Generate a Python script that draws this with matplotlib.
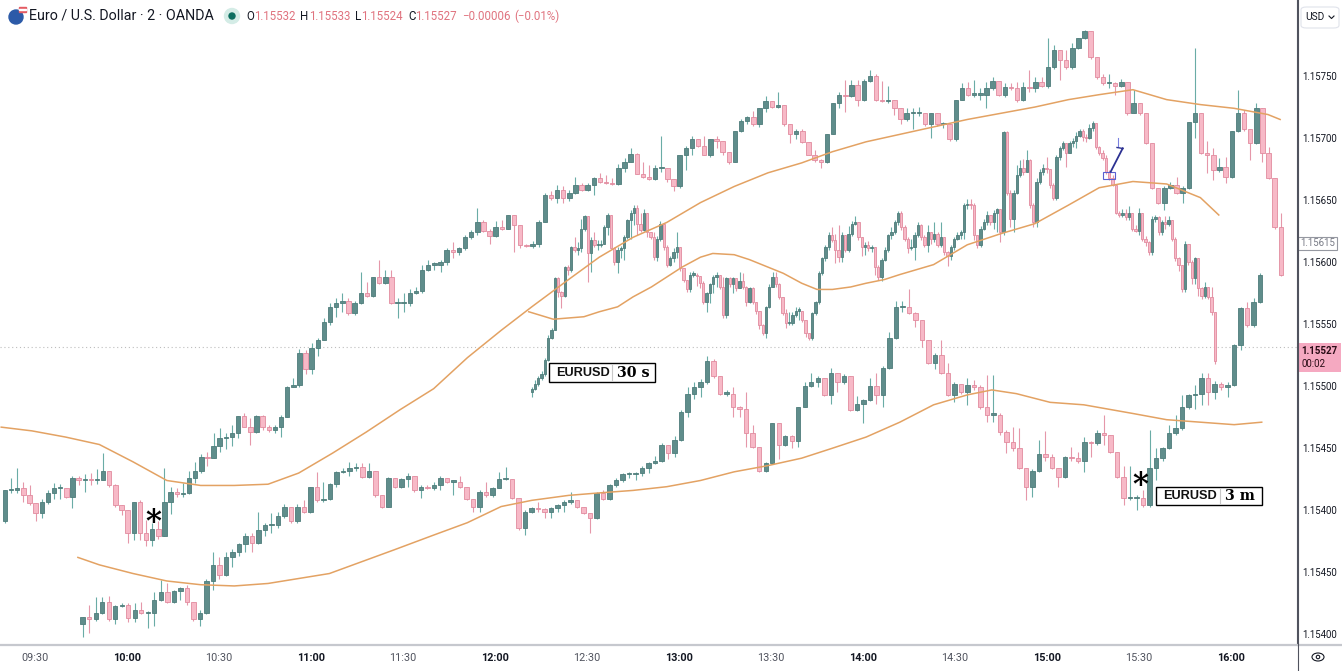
import numpy as np
import matplotlib.pyplot as plt
from matplotlib.patches import Rectangle, Ellipse, FancyBboxPatch
from matplotlib.lines import Line2D

W, H = 1342, 671
BASE = 1.15          # prices below are in 0.00001 steps above 1.15000

# --- EURUSD 2 min (main series) ---
a_open0 = 391
a_close = [416,416,418,412,406,398,407,414,418,418,
           411,426,424,425,424,424,432,420,404,400,
           382,407,382,376,385,379,407,415,413,414,
           426,432,443,442,452,458,459,462,476,467,
           463,476,467,465,467,475,499,501,527,514,
           531,537,552,564,567,569,559,567,575,573,
           588,583,588,567,567,567,575,577,594,598,
           598,600,610,608,611,620,624,632,625,621,
           628,627,638,630,614,613,615,632,654,652,
           658,652,656,662,658,662,668,665,664,663,
           676,681,687,671,669,667,676,676,667,661,
           686,692,699,694,686,699,698,689,681,706,
           714,717,711,724,730,725,727,711,703,706,
           697,686,682,681,703,728,735,734,743,731,
           746,750,731,730,731,724,715,720,720,720,
           711,720,711,711,699,731,740,735,735,735,
           740,746,735,741,740,731,741,740,745,742,
           757,771,763,757,773,781,786,765,749,744,
           744,742,745,720,728,720,696,660,648,660,
           662,656,660,713,720,688,686,674,677,669,
           706,720,707,696,724,688,668,628,590]
a_high = [416,426,434,423,420,406,409,416,422,421,
          418,428,428,429,430,433,446,432,421,404,
          400,407,408,392,390,391,434,419,418,422,
          432,439,445,447,462,466,462,469,476,478,
          474,477,477,469,469,477,500,507,530,529,
          535,539,555,567,571,575,571,569,592,584,
          588,602,594,594,571,575,578,580,598,602,
          600,602,611,616,612,622,626,644,634,627,
          633,634,638,638,630,615,617,634,656,657,
          662,661,658,669,664,664,669,672,670,668,
          679,684,692,688,681,678,678,702,676,667,
          686,694,702,698,702,699,702,698,689,706,
          715,718,722,724,734,730,737,727,711,707,
          707,697,690,683,703,728,737,747,747,747,
          748,755,752,746,742,731,724,724,724,725,
          720,720,720,713,711,731,744,745,747,740,
          745,749,746,744,744,745,745,755,749,749,
          781,775,771,771,777,781,787,786,765,752,
          752,745,748,745,739,728,720,696,660,661,
          665,669,661,713,773,720,698,692,684,685,
          706,739,723,707,728,724,693,668,640]
a_low = [390,414,414,407,404,391,394,405,409,409,
         410,402,420,415,420,421,424,419,403,396,
         374,376,376,371,371,377,379,397,411,411,
         413,422,430,436,442,447,449,452,458,467,
         453,462,465,463,462,459,475,499,499,510,
         510,524,537,549,556,560,557,557,566,572,
         572,582,582,566,555,560,565,574,575,593,
         594,592,598,603,606,610,619,622,624,615,
         620,626,627,608,611,612,611,612,632,650,
         648,648,649,655,657,657,654,664,663,662,
         662,673,681,671,668,666,666,673,665,657,
         660,674,686,693,686,685,692,686,679,681,
         705,711,710,709,721,724,724,710,696,699,
         696,686,681,676,680,703,724,721,733,726,
         730,745,730,729,728,719,711,714,707,718,
         710,700,710,708,698,698,731,734,733,731,
         724,739,734,733,739,729,730,737,737,741,
         740,756,747,756,756,772,780,764,748,743,
         740,735,741,719,720,719,695,659,647,642,
         659,655,648,659,700,687,672,666,673,664,
         668,705,706,682,695,681,667,627,589]

# --- EURUSD 30 s overlay ---
b_open0 = 495
b_close = [498,502,507,510,521,539,545,587,576,573,
           596,594,612,610,611,627,637,607,618,614,
           614,615,628,638,611,600,610,611,620,634,
           640,644,631,626,640,624,620,604,619,631,
           612,598,603,608,612,595,586,578,590,590,
           589,583,568,575,582,588,590,580,557,587,
           582,587,579,585,580,568,579,568,561,549,
           543,564,580,588,582,572,559,551,551,557,
           561,561,553,543,539,559,568,591,603,612,
           622,618,610,604,622,610,623,631,632,620,
           612,614,611,612,596,588,602,610,622,624,
           632,640,628,619,611,612,622,630,620,614,
           624,619,623,614,620,608,605,612,619,622,
           624,646,647,646,622,614,627,632,638,632,
           640,643,624,705,656,635,656,670,676,673,
           682,646,632,665,673,676,675,662,652,685,
           692,696,688,696,698,702,706,701,700,708,
           712,693,688,684,673,668,662,640,638,640,
           636,640,627,625,640,619,616,608,635,636,
           624,632,631,634,619,603,598,578,615,600,
           587,603,579,573,580,572,560,520]
b_high = [499,505,508,512,523,541,547,588,588,577,
          597,598,613,620,616,635,638,637,620,624,
          618,618,630,640,622,612,612,613,622,635,
          642,646,646,640,643,627,624,624,621,633,
          630,614,605,611,624,610,595,586,592,593,
          591,589,585,576,583,590,592,590,588,588,
          588,588,584,592,591,581,580,580,568,561,
          550,565,582,592,592,583,572,562,560,560,
          564,564,561,553,543,560,569,593,604,614,
          624,628,623,630,624,622,629,633,637,632,
          620,616,617,614,612,598,603,612,623,628,
          634,641,641,630,620,619,624,632,631,622,
          630,624,632,624,632,620,609,614,620,624,
          626,648,651,651,648,622,629,635,641,638,
          642,644,636,706,706,658,658,678,682,683,
          690,683,648,668,675,679,685,675,664,686,
          694,698,696,698,700,705,707,707,703,711,
          714,710,694,690,686,674,670,662,641,643,
          643,645,640,630,644,640,621,617,637,638,
          637,634,637,637,634,620,604,598,617,615,
          602,604,603,580,584,580,580,560]
b_low = [491,497,500,505,508,520,538,545,572,563,
         572,590,592,608,606,608,625,584,592,612,
         610,612,619,622,611,598,591,603,602,619,
         619,630,622,624,625,620,619,602,601,617,
         610,596,597,600,603,593,584,576,576,588,
         581,579,566,560,567,575,580,578,555,555,
         580,575,577,579,578,565,567,566,558,546,
         541,539,563,580,580,570,557,547,549,549,
         556,553,552,540,537,537,557,566,590,601,
         610,616,599,600,600,608,608,621,630,618,
         605,606,609,608,590,586,585,601,608,619,
         623,630,626,617,607,610,602,620,618,612,
         608,615,616,612,612,606,597,602,610,618,
         619,619,643,643,618,611,612,626,630,630,
         627,624,616,622,654,628,624,655,669,670,
         673,644,628,628,663,670,672,660,650,650,
         682,690,677,690,693,692,701,698,697,699,
         706,691,686,682,671,666,661,639,636,636,
         634,634,625,624,622,617,613,606,606,632,
         622,622,627,629,617,601,593,576,576,598,
         582,582,573,570,571,570,557,518]

# --- EURUSD 3 min overlay ---
c_open0 = 308
c_close = [314,312,317,326,312,323,324,313,320,317,
           317,328,334,326,335,337,326,312,317,343,
           356,348,362,366,373,379,374,384,388,388,
           395,403,391,403,399,419,408,409,421,431,
           432,434,435,427,432,412,403,426,419,425,
           428,416,419,418,420,426,423,423,419,409,
           403,415,412,418,425,425,410,386,399,402,
           401,399,402,404,407,408,403,398,394,414,
           409,420,424,429,429,430,434,438,440,453,
           446,457,479,494,499,503,520,508,494,494,
           483,482,462,451,432,438,470,453,460,456,
           483,500,503,507,493,511,503,508,481,486,
           489,500,493,515,539,564,564,559,553,537,
           519,525,511,493,502,495,501,499,483,477,
           477,463,455,450,434,419,432,445,443,434,
           427,443,442,440,455,454,462,461,447,427,
           410,410,410,404,434,442,450,462,466,483,
           493,494,507,495,502,499,501,533,563,549,
           568,590]
c_high = [314,324,330,330,331,324,325,325,325,326,
          319,334,344,341,336,338,340,326,320,345,
          366,362,366,369,374,382,382,399,390,398,
          399,405,403,405,408,419,431,423,422,432,
          434,439,438,438,438,432,412,427,426,426,
          430,428,420,420,423,428,426,424,428,419,
          409,416,423,419,431,435,425,410,400,403,
          407,402,403,405,408,415,408,403,398,415,
          416,421,426,430,431,431,436,439,444,454,
          453,460,481,499,503,506,524,522,508,497,
          499,484,495,469,451,439,470,470,461,461,
          483,503,511,508,507,515,511,510,508,492,
          490,507,511,516,544,569,569,578,560,553,
          537,527,537,519,503,502,507,505,501,509,
          509,478,465,467,466,434,433,457,464,445,
          434,444,451,447,459,456,465,477,461,447,
          436,436,412,416,465,450,451,469,477,493,
          494,501,511,511,504,503,503,534,564,568,
          571,591]
c_low = [298,301,311,316,311,308,322,310,310,316,
         305,307,327,325,325,328,324,311,307,316,
         336,345,347,354,363,366,366,373,379,382,
         386,394,390,390,398,398,407,407,408,419,
         430,428,432,426,426,411,402,403,418,418,
         419,415,410,417,416,416,422,412,418,408,
         399,399,411,411,418,424,409,384,380,398,
         399,394,394,399,399,405,402,397,382,393,
         408,408,419,423,426,424,428,430,437,439,
         441,443,456,475,490,491,502,507,493,492,
         475,475,451,450,431,431,437,441,452,450,
         451,483,499,499,492,486,495,502,480,480,
         470,488,486,483,514,538,560,558,548,532,
         518,514,510,492,487,494,485,497,482,471,
         471,461,446,448,433,408,411,431,440,433,
         419,426,440,438,431,443,453,453,446,426,
         404,408,400,403,403,424,440,449,461,465,
         482,482,485,485,490,497,491,500,529,548,
         548,567]

# moving averages (minutes after 09:00, price steps)
ma_a_t = [19,29,40,51,62,73,84,95,106,116,127,138,149,160,171,182,192,204,214,225,
          236,247,258,269,280,290,301,312,323,334,345,356,367,377,388,399,410,421,432,436]
ma_a_v = [467,464,459,453,439,424,420,420,421,430,446,463,481,498,523,545,564,586,604,620,
          632,648,661,672,680,689,697,703,709,715,720,725,731,735,739,731,727,724,719,715]
ma_b_t = [191,199,209,214,220,225,231,236,241,247,251,258,263,269,274,280,285,290,296,301,
          307,312,323,334,345,356,367,377,388,399,410,416]
ma_b_v = [560,554,556,560,564,572,580,588,596,604,607,606,602,596,591,583,578,578,580,583,
          586,590,598,614,623,631,646,660,665,663,652,638]
ma_c_t = [44,51,62,73,84,95,106,116,126,147,160,171,182,192,204,214,225,236,247,258,
          269,280,290,301,312,323,334,342,350,361,372,388,399,410,421,430]
ma_c_v = [362,356,349,343,340,339,341,345,349,368,380,390,403,408,412,414,416,419,424,431,
          436,442,450,459,471,485,493,497,494,487,485,478,473,471,469,471]

time_ticks = [30,60,90,120,150,180,210,240,270,300,330,360,390,420]
time_labels = ["09:30","10:00","10:30","11:00","11:30","12:00","12:30",
               "13:00","13:30","14:00","14:30","15:00","15:30","16:00"]
price_ticks = [300,350,400,450,500,550,600,650,700,750]
price_labels = ["1.15400","1.15450","1.15400","1.15450","1.15500",
                "1.15550","1.15600","1.15650","1.15700","1.15750"]
last_price = 532

UP_BODY, UP_EDGE, UP_WICK = '#5f8d8b', '#4e7c7a', '#6aaca6'
DN_BODY, DN_EDGE, DN_WICK = '#f7b9c7', '#e28b9f', '#e597a9'
MA_COL = '#e3a263'
TXT = '#131722'


def pr(v):
    return BASE + np.asarray(v, dtype=float) * 1e-5


plt.rcParams['font.family'] = ['Roboto', 'DejaVu Sans']
fig = plt.figure(figsize=(W / 100, H / 100), dpi=100)
ax = fig.add_axes([0, 26 / H, 1297 / W, 645 / H])
ax.set_xlim(18.6, 441.5)
ax.set_ylim(pr(291.4), pr(811.3))


def candles(t0, step, open0, close, high, low, width):
    c = pr(close)
    o = np.concatenate([[pr(open0)], c[:-1]])
    h = np.maximum(pr(high), np.maximum(o, c))
    l = np.minimum(pr(low), np.minimum(o, c))
    t = t0 + step * np.arange(len(c))
    up = c >= o
    for m, body, edge, wick in ((up, UP_BODY, UP_EDGE, UP_WICK),
                                (~up, DN_BODY, DN_EDGE, DN_WICK)):
        ax.vlines(t[m], l[m], h[m], color=wick, lw=0.8, zorder=2)
        ax.bar(t[m], np.maximum(np.abs(c - o)[m], 1e-5), bottom=np.minimum(o, c)[m],
               width=width, color=body, edgecolor=edge, linewidth=0.6, zorder=3)


ax.axhline(pr(last_price), color='#bdbdbd', lw=0.8, ls=(0, (1, 2.5)), zorder=1)

candles(20.23, 2.0, a_open0, a_close, a_high, a_low, 1.45)
candles(45.57, 2.121, c_open0, c_close, c_high, c_low, 1.45)
candles(191.98, 1.076, b_open0, b_close, b_high, b_low, 0.75)

for t, v in ((ma_a_t, ma_a_v), (ma_b_t, ma_b_v), (ma_c_t, ma_c_v)):
    ax.plot(t, pr(v), color=MA_COL, lw=1.1, zorder=4)

# axes look
for s in ('top', 'left', 'bottom'):
    ax.spines[s].set_visible(False)
ax.spines['right'].set_color('#50535e')
ax.spines['right'].set_linewidth(0.8)
ax.yaxis.tick_right()
ax.set_yticks(pr(price_ticks))
ax.set_yticklabels(price_labels)
ax.tick_params(axis='y', length=0, pad=4, labelsize=6.9, labelcolor=TXT)
ax.set_xticks(time_ticks)
ax.set_xticklabels(time_labels)
ax.tick_params(axis='x', length=0, pad=6, labelsize=7.8, labelcolor=TXT)
for lab in ax.get_xticklabels():
    if lab.get_text().endswith(":00"):
        lab.set_fontweight('bold')
    else:
        lab.set_color('#50535e')


def fx(x):
    return x / W


def fy(y):
    return 1 - y / H


# frame lines around the axis areas
fig.add_artist(Line2D([0, 1], [fy(645), fy(645)], color='#c6c8ce', lw=1.6))
fig.add_artist(Line2D([fx(1297.5)] * 2, [0, 1], color='#50535e', lw=0.8))

# header
fig.add_artist(Ellipse((fx(16), fy(17)), 14 / W, 14 / H, color='#2c5aa8'))
fig.add_artist(Rectangle((fx(19), fy(12)), 7 / W, 5 / H, color='#e45b63'))
fig.add_artist(Rectangle((fx(19), fy(10)), 7 / W, 1.2 / H, color='white'))
fig.text(fx(29), fy(16), "Euro / U.S. Dollar · 2 · OANDA", fontsize=10.3,
         color=TXT, va='center')
fig.add_artist(Ellipse((fx(232), fy(16)), 15 / W, 15 / H, color='#d4ece6'))
fig.add_artist(Ellipse((fx(232), fy(16)), 6 / W, 6 / H, color='#0b6e5f'))

fig.canvas.draw()
rend = fig.canvas.get_renderer()
red = '#e0737f'
parts = [("O", TXT, 0), ("1.15532", red, 5), ("H", TXT, 0), ("1.15533", red, 5),
         ("L", TXT, 0), ("1.15524", red, 5), ("C", TXT, 0), ("1.15527", red, 5),
         ("\u22120.00006", red, 4), ("(\u22120.01%)", red, 0)]
xp = 246
for txt, col, gap in parts:
    tt = fig.text(fx(xp), fy(16), txt, fontsize=8.3, color=col, va='center')
    xp += tt.get_window_extent(rend).width + gap

# price scale extras
fig.add_artist(FancyBboxPatch((fx(1301), fy(28)), 38 / W, 21 / H,
                              boxstyle="round,pad=0,rounding_size=0.004",
                              fc='white', ec='#e0e3eb', lw=0.8))
fig.text(fx(1305), fy(17), "USD", fontsize=7.3, color=TXT, va='center')
fig.add_artist(Line2D([fx(1329), fx(1331.5), fx(1334)], [fy(16), fy(18.5), fy(16)],
                      color=TXT, lw=0.8))
fig.add_artist(Rectangle((fx(1298), fy(250)), 39 / W, 13 / H, fc='white',
                         ec='#9598a1', lw=0.8))
fig.text(fx(1317.5), fy(243.5), "1.15615", fontsize=6.9, color='#787b86',
         ha='center', va='center')
fig.add_artist(Rectangle((fx(1298), fy(372)), 43 / W, 29 / H, fc='#f5a9c1', ec='none'))
fig.text(fx(1301), fy(351), "1.15527", fontsize=7.0, color='#2a0c16', va='center',
         fontweight='bold')
fig.text(fx(1301), fy(364), "00:02", fontsize=7.0, color='#2a0c16', va='center')
fig.add_artist(Ellipse((fx(1318), fy(657)), 12 / W, 8 / H, fc='none', ec=TXT, lw=0.8))
fig.add_artist(Ellipse((fx(1318), fy(657)), 3.5 / W, 3.5 / H, fc='none', ec=TXT, lw=0.8))


def label_box(x0, x1, y0, y1, xdiv, left, right):
    fig.add_artist(Rectangle((fx(x0), fy(y1)), (x1 - x0) / W, (y1 - y0) / H,
                             fc='white', ec='black', lw=1.0, zorder=6))
    fig.add_artist(Line2D([fx(xdiv)] * 2, [fy(y0 + 2), fy(y1 - 2)],
                          color='#c8c8c8', lw=0.8, zorder=7))
    ym = (y0 + y1) / 2
    fig.text(fx(x0 + 7), fy(ym), left, fontsize=9.2, family='Liberation Sans',
             fontweight='bold', color='#111111', va='center', zorder=8)
    fig.text(fx(xdiv + 5), fy(ym), right, fontsize=10.3, family='DejaVu Serif',
             fontweight='bold', color='black', va='center', zorder=8)


label_box(549, 655, 363, 382, 612, "EURUSD", "30 s")
label_box(1156, 1262, 487, 505, 1220, "EURUSD", "3 m")

for xs, ys in ((153, 515), (1140, 478)):
    fig.text(fx(xs), fy(ys + 16), "*", fontsize=22, family='DejaVu Serif',
             fontweight='bold', color='black', ha='center', va='baseline', zorder=8)

# small trade drawing near 15:20
fig.add_artist(Rectangle((fx(1103), fy(179)), 12 / W, 7 / H, fc='none',
                         ec='#5a5fd0', lw=0.8))
fig.add_artist(Line2D([fx(1110.7), fx(1122.7)], [fy(171.7), fy(148.3)],
                      color='#2c3192', lw=1.3))
fig.add_artist(Line2D([fx(1117), fx(1123)], [fy(147.5), fy(148.5)],
                      color='#2c3192', lw=1.0))
fig.add_artist(Line2D([fx(1118), fx(1118)], [fy(138), fy(146)],
                      color='#7a80e0', lw=0.8))

fig.savefig("out.png", dpi=100, facecolor='white')
